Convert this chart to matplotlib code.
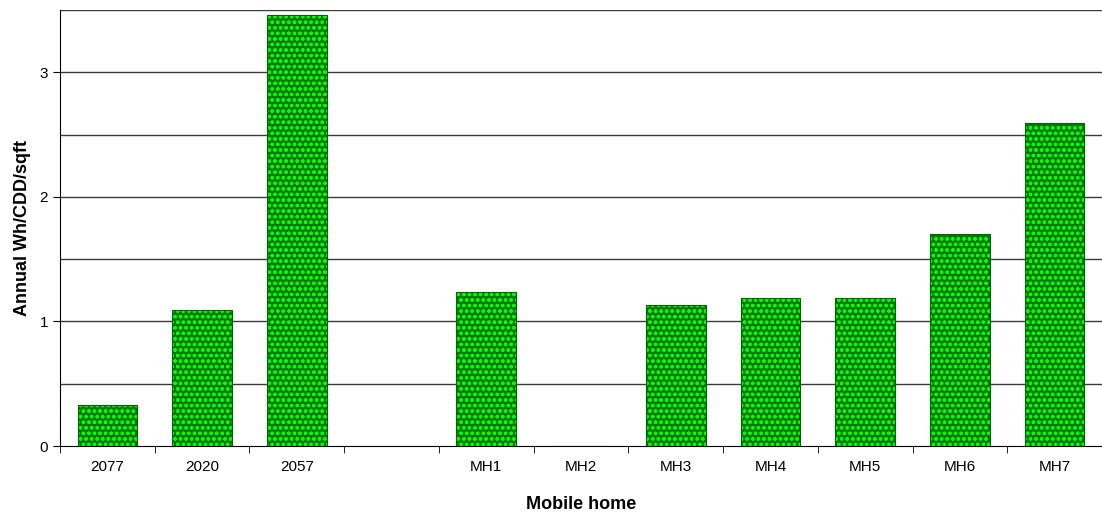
import numpy as np
import matplotlib.pyplot as plt

plt.rcParams["font.family"] = ["Liberation Sans", "DejaVu Sans"]
plt.rcParams["hatch.linewidth"] = 0.9

categories = ["2077", "2020", "2057", "", "MH1", "MH2", "MH3", "MH4", "MH5", "MH6", "MH7"]
values = [0.33, 1.09, 3.46, np.nan, 1.24, 0.0, 1.13, 1.19, 1.19, 1.70, 2.59]

fig = plt.figure(figsize=(11.02, 5.17), dpi=100)
ax = fig.add_axes([60 / 1102, 71 / 517, 1 - 60 / 1102, 436 / 517])

x = np.arange(len(categories))
ax.bar(x, values, width=0.63, color="#007800", edgecolor="#00ff00",
       hatch="ooo", linewidth=0, zorder=3)
ax.bar(x, values, width=0.63, facecolor="none", edgecolor="#006400",
       linewidth=0.8, zorder=4)

ax.set_ylim(0, 3.5)
ax.set_xlim(-0.5, 10.46)
for y in np.arange(0.5, 3.51, 0.5):
    ax.axhline(y, color="#3a3a3a", linewidth=1.0, zorder=1)

ax.set_yticks([0, 1, 2, 3])
ax.set_xticks(x)
ax.set_xticklabels(categories)
ax.set_xticks(np.arange(-0.5, 11, 1), minor=True)
ax.tick_params(axis="x", which="major", length=0, pad=10, labelsize=11)
ax.tick_params(axis="x", which="minor", length=5, direction="out")
ax.tick_params(axis="y", length=5, direction="out", labelsize=11)

for s in ["top", "right"]:
    ax.spines[s].set_visible(False)
ax.spines["left"].set_color("black")
ax.spines["bottom"].set_color("black")

ax.set_xlabel("Mobile home", fontsize=13, fontweight="bold", labelpad=16)
ax.set_ylabel("Annual Wh/CDD/sqft", fontsize=13, fontweight="bold", labelpad=6)

fig.savefig("out.png", dpi=100)
